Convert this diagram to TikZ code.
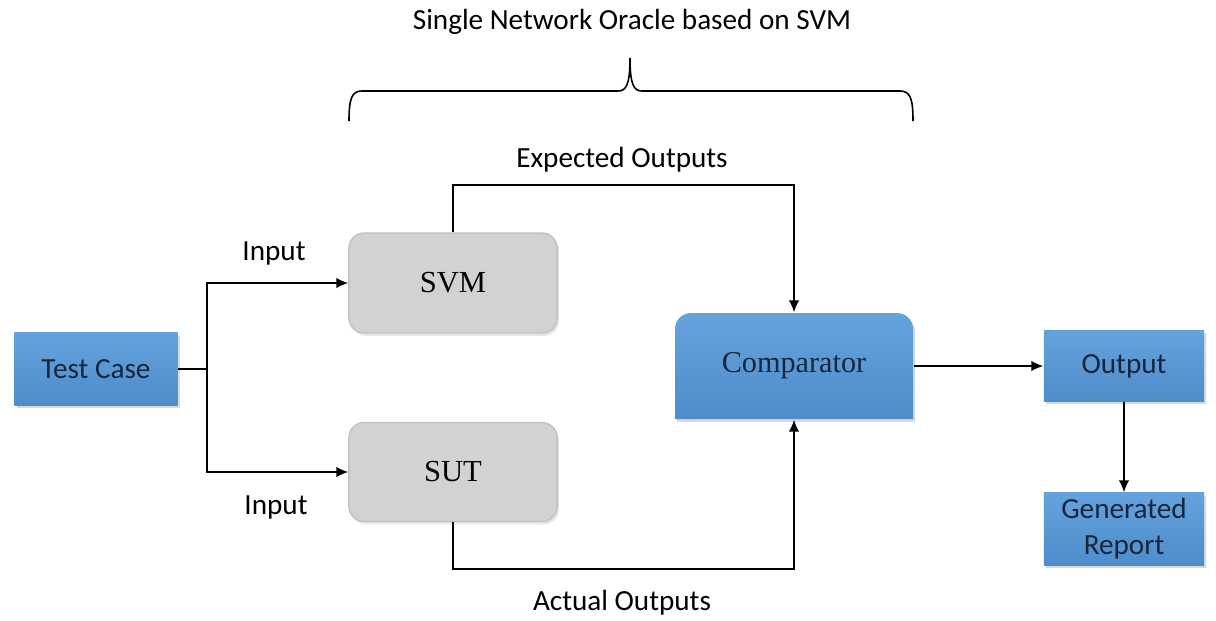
\documentclass[tikz,border=0pt]{standalone}
\usepackage{fontspec}
\setmainfont{Liberation Serif}
\newfontfamily\labelfont{Carlito}
\usepackage{tikz}
\usetikzlibrary{arrows.meta}
\usetikzlibrary{shadows}
\definecolor{boxblue}{HTML}{5B9BD5}
\definecolor{boxbluetop}{HTML}{64A3DC}
\definecolor{boxbluebot}{HTML}{4E8CCB}
\definecolor{boxgray}{HTML}{D2D2D2}
\definecolor{boxedge}{HTML}{C2C2C2}
\definecolor{boxtext}{HTML}{17263D}

\begin{document}
\begin{tikzpicture}[x=0.01cm,y=0.01cm,
        lbl/.style={font=\labelfont\fontsize{8.3}{10.2}\selectfont},
        bluebox/.style={lbl,text=boxtext,top color=boxbluetop,bottom color=boxbluebot,
            drop shadow={opacity=0.3,shadow xshift=0.6pt,shadow yshift=-0.8pt},
            inner sep=0pt,align=center},
        graybox/.style={fill=boxgray,draw=boxedge,rounded corners=4.3pt,inner sep=0pt,
            font=\fontsize{8.7}{10}\selectfont,
            drop shadow={opacity=0.2,shadow xshift=0.6pt,shadow yshift=-0.8pt}},
        flow/.style={line width=0.45pt,-{Latex[length=3.4pt,width=3pt]}},
        wire/.style={line width=0.45pt}]
    \useasboundingbox (0,0) rectangle (1216,620);

    \node[bluebox,minimum width=1.63cm,minimum height=0.72cm] (test) at (96,251) {Test Case};
    \node[graybox,minimum width=2.08cm,minimum height=1cm] (svm) at (453,337) {SVM};
    \node[graybox,minimum width=2.08cm,minimum height=0.99cm] (sut) at (453,148) {SUT};
    \node[bluebox,minimum width=1.6cm,minimum height=0.71cm] (out) at (1124,254) {Output};
    \node[bluebox,minimum width=1.6cm,minimum height=0.72cm] (rep) at (1124,91) {Generated\\Report};

    % comparator: rounded only on top
    \shade[top color=boxbluetop,bottom color=boxbluebot,
        drop shadow={opacity=0.3,shadow xshift=0.6pt,shadow yshift=-0.8pt}]
        (675,201) -- (675,291) arc (180:90:16) -- (897,307) arc (90:0:16) -- (913,201) -- cycle;
    \node[font=\fontsize{8.6}{10}\selectfont,text=boxtext,minimum width=2.38cm,minimum height=1.06cm,
        inner sep=0pt] (comp) at (794,254) {Comparator};

    \coordinate (split) at (207,251);
    \draw[wire] (test) -- (split);
    \draw[flow] (split) |- (svm);
    \draw[flow] (split) |- (sut);
    \draw[flow] (svm.north) -- ++(0,47) -| (comp.north);
    \draw[flow] (sut.south) -- ++(0,-47) -| (comp.south);
    \draw[flow] (comp) -- (out);
    \draw[flow] (out) -- (rep);

    \node[lbl] (in1) at (274,367) {Input};
    \node[lbl] (in2) at (276,113) {Input};
    \node[lbl] (exp) at (622,460) {Expected Outputs};
    \node[lbl] (act) at (622,17) {Actual Outputs};

    % brace over the oracle
    \draw[wire] (349,499) .. controls (349,522) and (352,529) .. (362,529) -- (618,529)
        .. controls (626,529) and (630,535) .. (630,562)
        .. controls (630,535) and (634,529) .. (642,529) -- (900,529)
        .. controls (910,529) and (913,522) .. (913,499);
    \node[lbl] (title) at (632,598) {Single Network Oracle based on SVM};
\end{tikzpicture}
\end{document}
